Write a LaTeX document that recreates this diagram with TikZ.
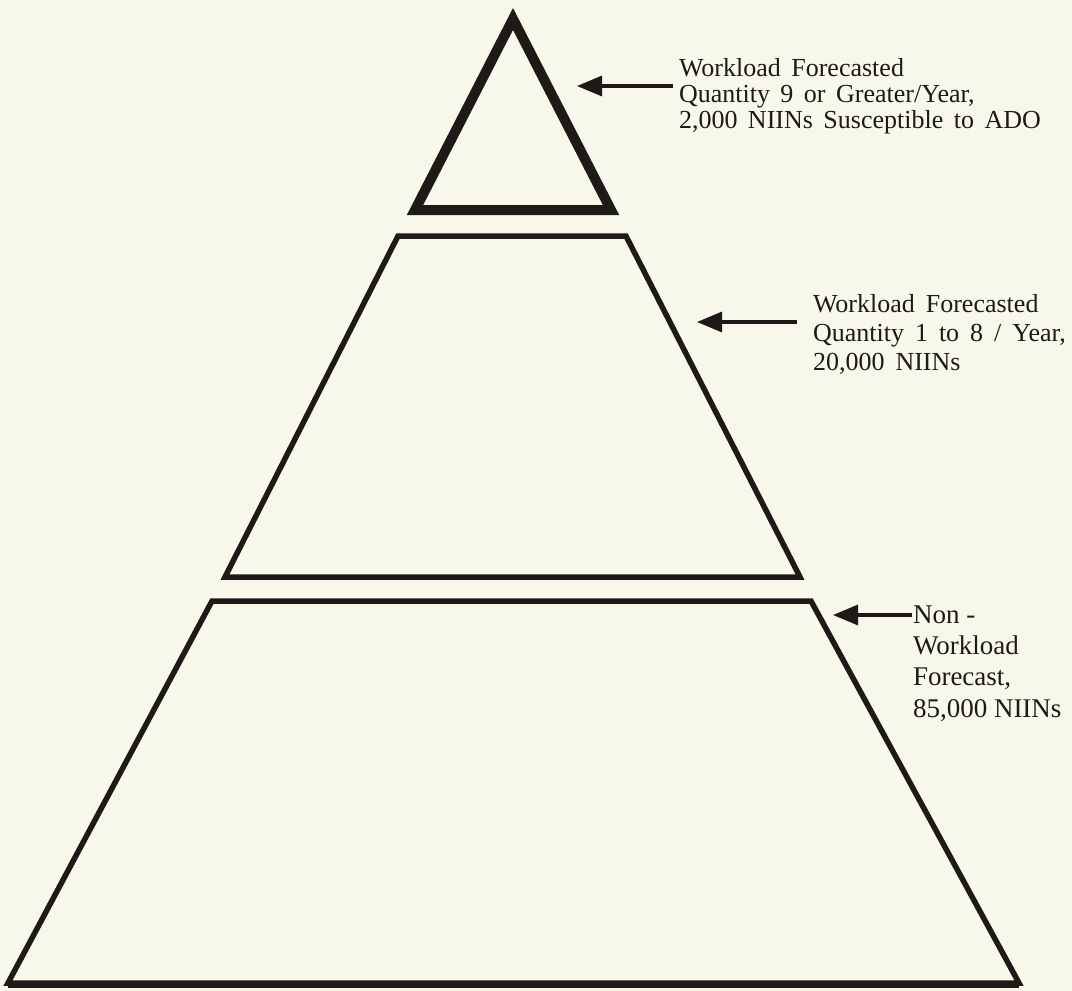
\documentclass[tikz,border=0pt]{standalone}
\usepackage{fontspec}
\setmainfont{Liberation Serif}
\usetikzlibrary{arrows.meta}
\definecolor{paper}{RGB}{247,247,234}
\definecolor{ink}{RGB}{30,26,24}
\newcommand\widespaceA{\spaceskip=10.5pt plus 2pt minus 1pt\relax}
\newcommand\widespaceB{\spaceskip=11pt plus 2pt minus 1pt\relax}
\tikzset{
  tier/.style={draw=ink, line join=miter, miter limit=20},
  pointer/.style={draw=ink, line width=3.2pt, -{Triangle[length=25pt,width=20pt]}},
  label/.style={anchor=base west, inner sep=0pt, outer sep=0pt, align=left, text=ink}
}
\begin{document}
\begin{tikzpicture}[x=1pt,y=-1pt]
\fill[paper] (0,0) rectangle (1072,991);
\useasboundingbox (0,0) rectangle (1072,991);
% tiers
\draw[tier, line width=10pt] (513,19) -- (611,210) -- (415,210) -- cycle;
\draw[tier, line width=5.5pt] (398,236) -- (626,236) -- (800,577) -- (225,577) -- cycle;
\draw[tier, line width=5.5pt] (212,601) -- (811,601) -- (1019,983) -- (8,983) -- cycle;
\draw[ink, line width=7pt] (8,984) -- (1019,984);
% labels (anchor = baseline of the last line)
\node[label, font={\fontsize{26}{26}\selectfont\widespaceA}] (lab1) at (679,128)
  {Workload Forecasted\\Quantity 9 or Greater/Year,\\2,000 NIINs Susceptible to ADO};
\node[label, font={\fontsize{26}{29}\selectfont\widespaceB}] (lab2) at (813,370)
  {Workload Forecasted\\Quantity 1 to 8 / Year,\\20,000 NIINs};
\node[label, font={\fontsize{27}{31.3}\selectfont}] (lab3) at (913,717)
  {Non -\\Workload\\Forecast,\\85,000 NIINs};
% arrows
\coordinate (a1s) at (673,86);  \coordinate (a1e) at (577,86);
\coordinate (a2s) at (797,322); \coordinate (a2e) at (697,322);
\coordinate (a3s) at (912,615); \coordinate (a3e) at (833,615);
\draw[pointer] (a1s) -- (a1e);
\draw[pointer] (a2s) -- (a2e);
\draw[pointer] (a3s) -- (a3e);
\end{tikzpicture}
\end{document}
